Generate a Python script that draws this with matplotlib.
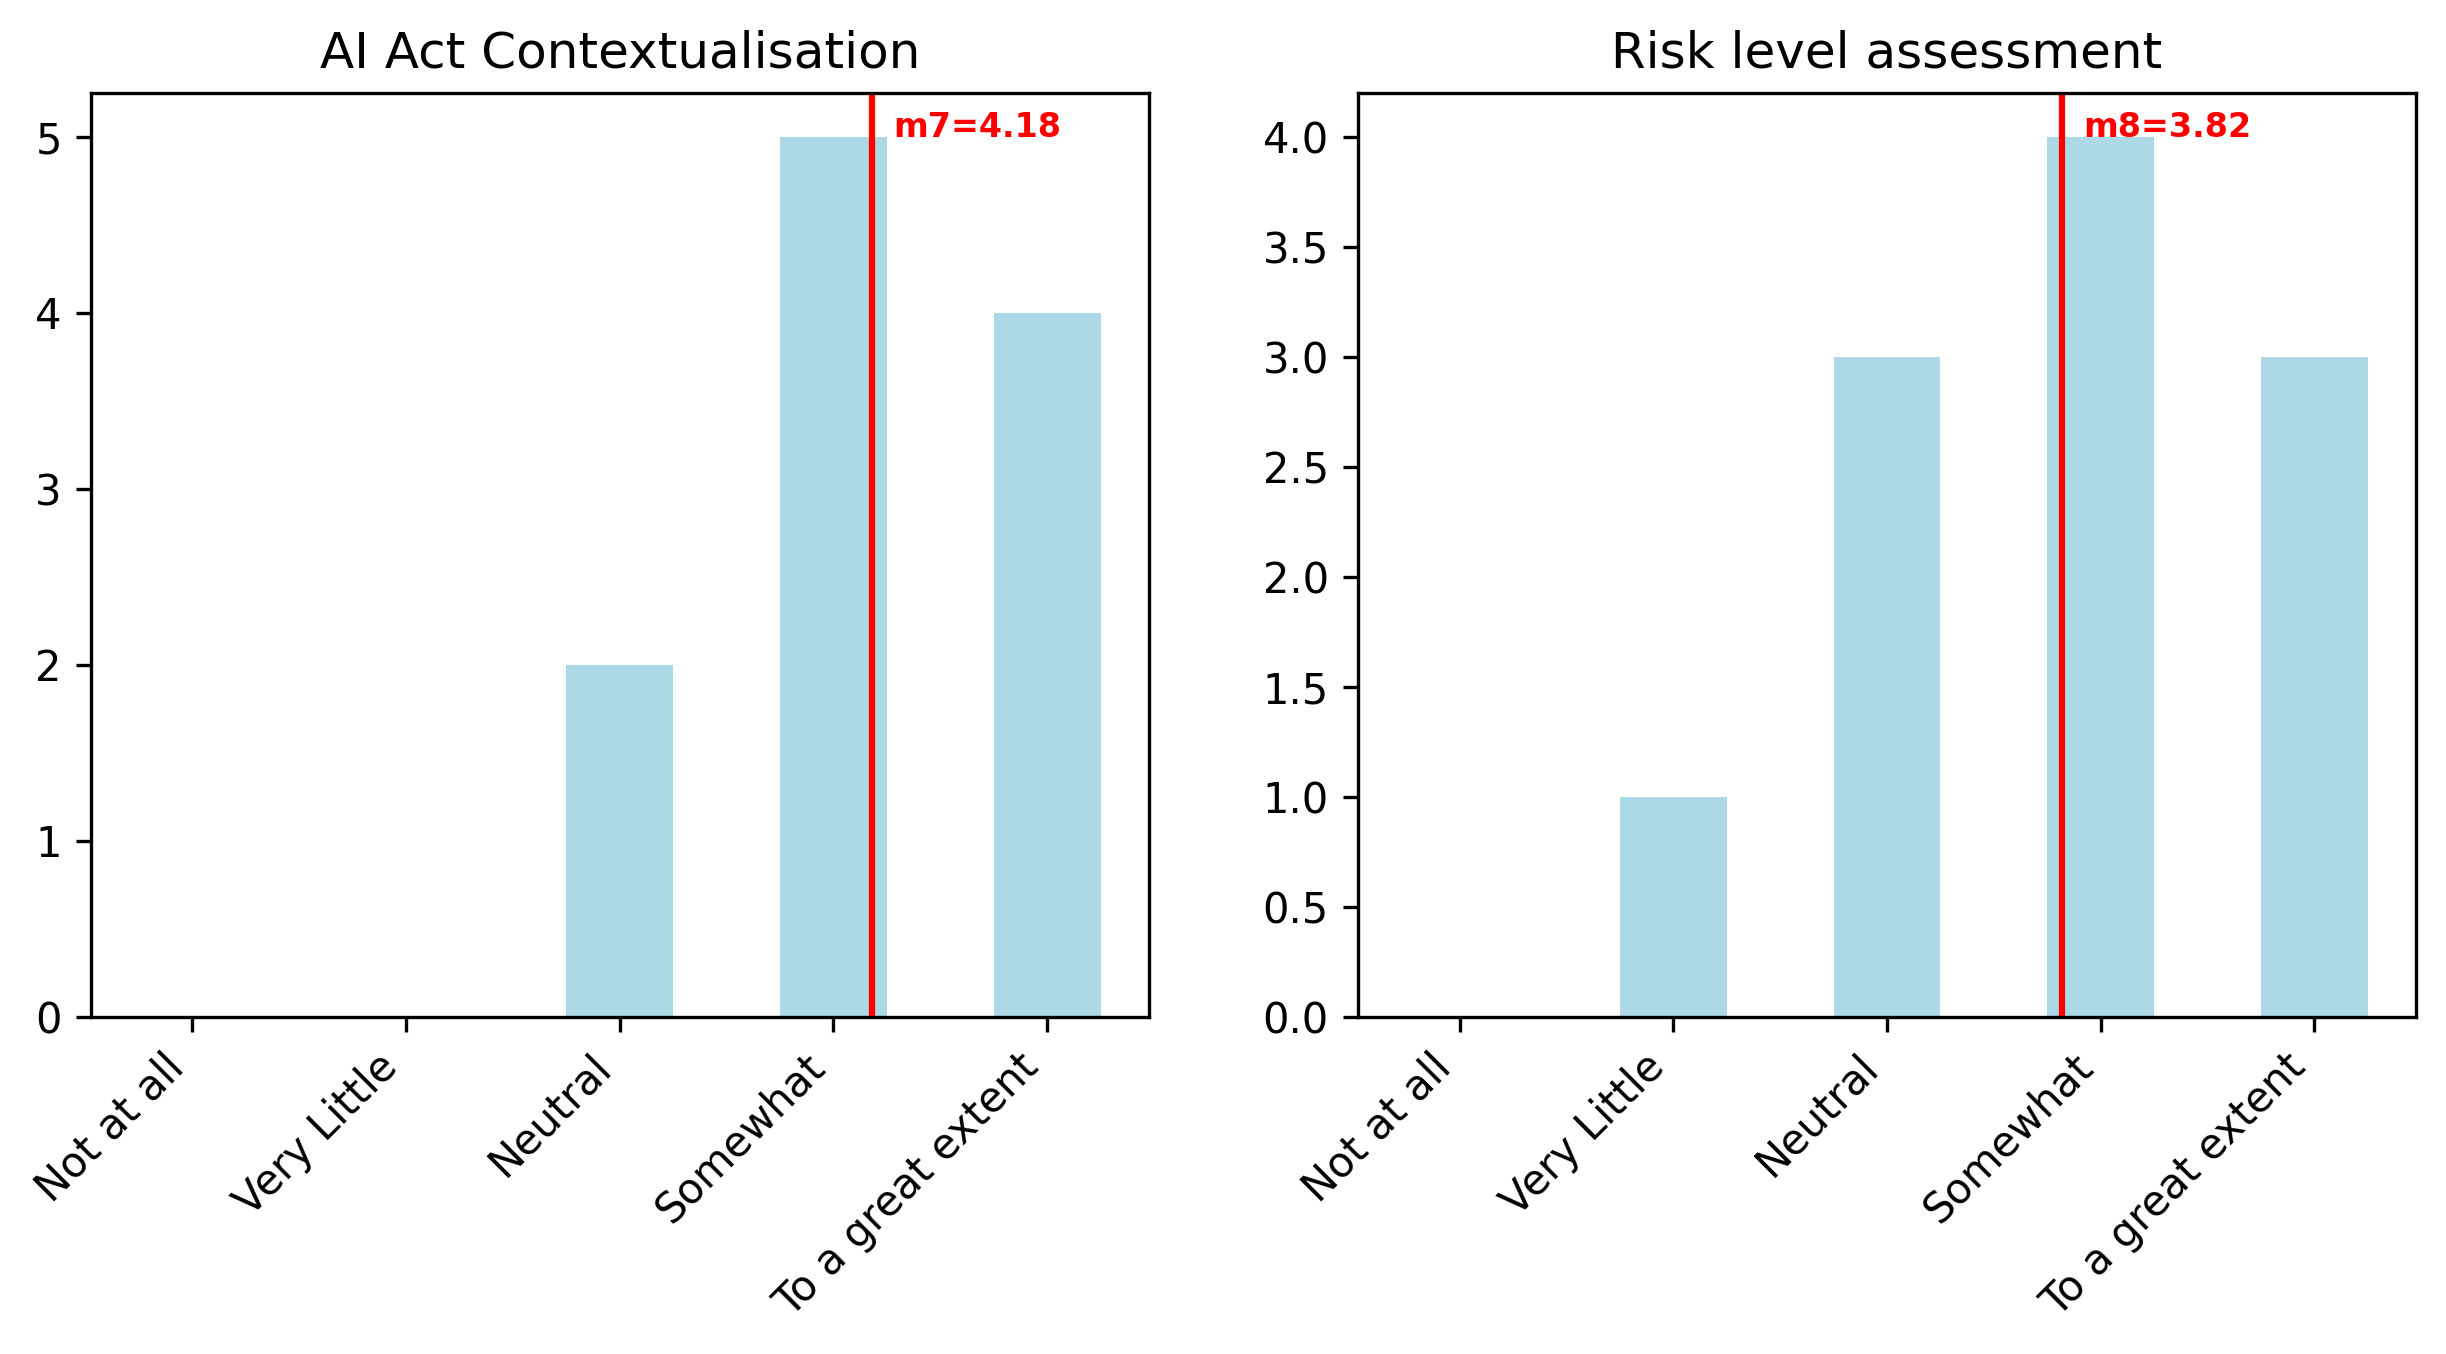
import matplotlib
matplotlib.use("Agg")
import matplotlib.pyplot as plt
import numpy as np

categories = ["Not at all", "Very Little", "Neutral", "Somewhat", "To a great extent"]
counts_m7 = [0, 0, 2, 5, 4]
counts_m8 = [0, 1, 3, 4, 3]
mean_m7 = 4.18
mean_m8 = 3.82
titles = ["AI Act Contextualisation", "Risk level assessment"]

fig = plt.figure(figsize=(2446 / 300, 1354 / 300), dpi=300)
ax1 = fig.add_axes([0.0372, 0.2491, 0.4324, 0.6824])
ax2 = fig.add_axes([0.5552, 0.2491, 0.4325, 0.6824])

panels = [(ax1, counts_m7, mean_m7, "m7", titles[0]),
          (ax2, counts_m8, mean_m8, "m8", titles[1])]

for ax, counts, mean, name, title in panels:
    x = np.arange(len(categories))
    ax.bar(x, counts, width=0.5, color="lightblue")
    # mean on the 1..5 scale, shifted to bar positions
    ax.axvline(mean - 1, color="red", linewidth=1.5)
    ax.text(mean - 1 + 0.1, max(counts), f"{name}={mean:.2f}",
            color="red", fontsize=8, fontweight="bold")
    ax.set_xticks(x)
    ax.set_xticklabels(categories, rotation=45, ha="right")
    ax.set_title(title)

fig.savefig("out.png", dpi=300)
